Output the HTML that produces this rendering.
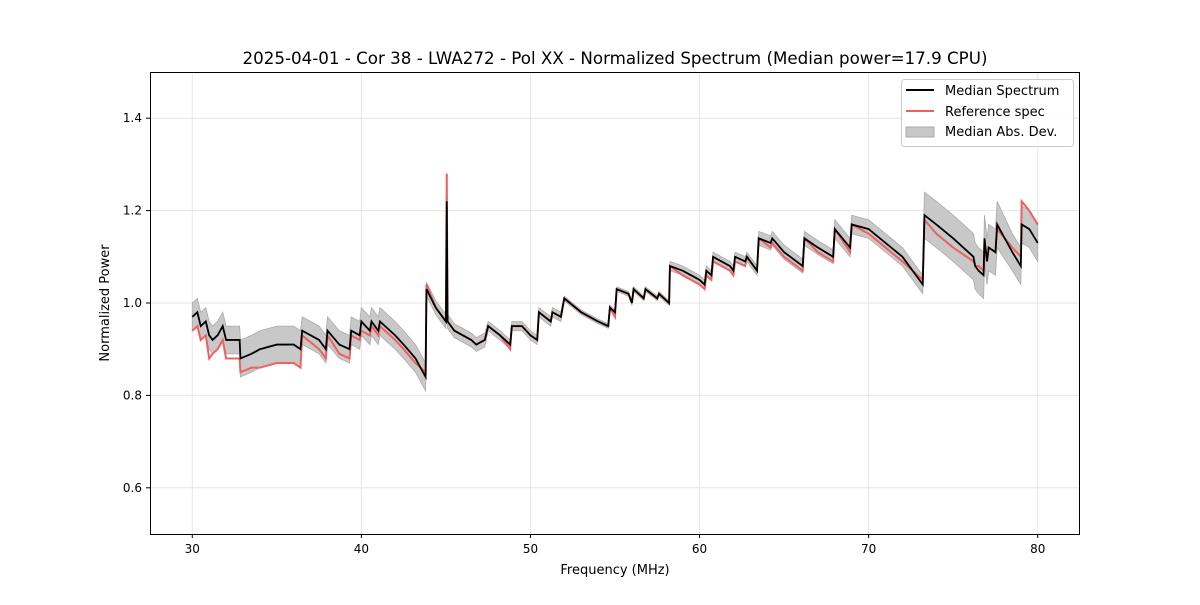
<!DOCTYPE html>
<html><head><meta charset="utf-8"><style>
body{margin:0;background:#fff;}
svg text{font-family:"DejaVu Sans","Liberation Sans",sans-serif;fill:#000;}
</style></head><body>
<svg id="chart" width="1200" height="600" xmlns="http://www.w3.org/2000/svg">
<rect width="1200" height="600" fill="#fff"/>
<text x="615" y="64" font-size="16.7" text-anchor="middle">2025-04-01 - Cor 38 - LWA272 - Pol XX - Normalized Spectrum (Median power=17.9 CPU)</text>
<g id="grid"></g>
<g id="marks"></g>
<rect x="150.5" y="72.5" width="929" height="462" fill="none" stroke="#000" stroke-width="1"/>
<g id="ticks"></g>
<text x="615" y="574" font-size="13" text-anchor="middle">Frequency (MHz)</text>
<text transform="translate(109,303) rotate(-90)" font-size="13" text-anchor="middle">Normalized Power</text>
<g>
<rect x="901.5" y="79.5" width="172" height="67" rx="3" fill="#fff" fill-opacity="0.8" stroke="#ccc"/>
<line x1="906" y1="90" x2="934" y2="90" stroke="#000" stroke-width="2"/>
<text x="945" y="95" font-size="13">Median Spectrum</text>
<line x1="906" y1="111" x2="934" y2="111" stroke="#f06060" stroke-width="2"/>
<text x="945" y="116" font-size="13">Reference spec</text>
<rect x="906" y="127" width="28" height="10" fill="#c8c8c8" stroke="#aaa"/>
<text x="945" y="136" font-size="13">Median Abs. Dev.</text>
</g>
</svg>
<script>
const freqs=[30.0,30.3,30.5,30.8,31.0,31.2,31.5,31.8,32.0,32.8,32.85,33.5,34,35,36,36.4,36.5,37.5,37.9,38.0,38.7,39.3,39.4,39.9,40.0,40.5,40.6,41.0,41.1,42,42.5,43.2,43.8,43.85,44.4,45.0,45.05,45.1,45.5,46,46.5,46.8,47.3,47.5,48.2,48.8,48.9,49.5,50.0,50.4,50.5,51.2,51.3,51.8,52.0,53,54,54.6,54.7,55.0,55.1,55.8,56.0,56.1,56.7,56.8,57.5,57.6,58.2,58.25,59,60,60.3,60.4,60.7,60.8,61.8,62.0,62.1,62.7,62.8,63.4,63.5,64.2,64.3,65,66.1,66.2,67,67.9,68.0,68.9,69.0,70,71,72,73.2,73.3,74,75,76.2,76.3,76.5,76.8,76.85,77.0,77.1,77.5,77.6,78.5,79.0,79.05,79.5,80.0];
const medianValues=[.97,.98,.95,.96,.93,.92,.93,.95,.92,.92,.88,.89,.90,.91,.91,.90,.94,.92,.90,.94,.91,.90,.94,.93,.96,.94,.96,.94,.96,.93,.91,.88,.84,1.03,.99,.96,1.22,.96,.94,.93,.92,.91,.92,.95,.93,.91,.95,.95,.93,.92,.98,.96,.98,.97,1.01,.98,.96,.95,.99,.98,1.03,1.02,1.00,1.03,1.01,1.03,1.01,1.02,1.00,1.08,1.07,1.05,1.04,1.07,1.06,1.10,1.08,1.07,1.10,1.09,1.10,1.07,1.14,1.13,1.14,1.11,1.08,1.14,1.12,1.10,1.16,1.12,1.17,1.16,1.13,1.10,1.04,1.19,1.17,1.14,1.10,1.08,1.07,1.06,1.14,1.09,1.12,1.11,1.17,1.11,1.08,1.17,1.16,1.13];
const referenceValues=[.94,.95,.92,.93,.88,.89,.90,.92,.88,.88,.85,.86,.86,.87,.87,.86,.93,.90,.88,.93,.89,.88,.93,.92,.94,.93,.95,.93,.95,.92,.90,.87,.85,1.04,.99,.96,1.28,.96,.94,.93,.92,.91,.92,.95,.93,.90,.95,.95,.93,.92,.98,.96,.98,.97,1.01,.98,.96,.95,.99,.97,1.03,1.02,1.00,1.03,1.01,1.03,1.01,1.02,1.00,1.08,1.06,1.04,1.03,1.06,1.05,1.09,1.07,1.06,1.09,1.08,1.10,1.07,1.14,1.12,1.13,1.10,1.07,1.14,1.11,1.09,1.16,1.11,1.17,1.15,1.12,1.09,1.05,1.18,1.15,1.12,1.09,1.08,1.08,1.07,1.13,1.09,1.12,1.11,1.16,1.12,1.10,1.22,1.20,1.17];
const madValues=[.03,.03,.03,.03,.03,.03,.03,.03,.03,.03,.04,.04,.04,.04,.04,.04,.03,.03,.03,.03,.03,.03,.03,.03,.03,.03,.03,.03,.03,.03,.03,.03,.03,.015,.015,.015,.015,.015,.015,.015,.015,.015,.015,.01,.01,.01,.01,.01,.01,.01,.01,.01,.01,.01,.005,.005,.005,.005,.005,.005,.005,.005,.005,.005,.005,.005,.005,.005,.005,.01,.01,.01,.01,.01,.01,.01,.01,.01,.01,.01,.01,.01,.015,.015,.015,.015,.015,.015,.015,.015,.02,.02,.02,.02,.02,.02,.02,.05,.05,.05,.05,.05,.05,.05,.05,.05,.05,.05,.05,.04,.04,.04,.04,.04];
const xTicks=[30,40,50,60,70,80];
const yTicks=[0.6,0.8,1.0,1.2,1.4];
const X0=150,X1=1080,Y0=534,Y1=72,XMIN=27.5,XMAX=82.5,YMIN=0.5,YMAX=1.5;
const sx=f=>X0+(f-XMIN)/(XMAX-XMIN)*(X1-X0);
const sy=v=>Y0-(v-YMIN)/(YMAX-YMIN)*(Y0-Y1);
const NS="http://www.w3.org/2000/svg";
function mk(tag,parent){const e=document.createElementNS(NS,tag);parent.appendChild(e);return e;}
const grid=document.getElementById('grid'),ticks=document.getElementById('ticks'),marks=document.getElementById('marks');
xTicks.forEach(t=>{
 const g=mk('line',grid);g.setAttribute('x1',sx(t));g.setAttribute('x2',sx(t));g.setAttribute('y1',Y1);g.setAttribute('y2',Y0);g.setAttribute('stroke','#e6e6e6');
 
 
 const l=mk('line',ticks);l.setAttribute('x1',sx(t));l.setAttribute('x2',sx(t));l.setAttribute('y1',Y0);l.setAttribute('y2',Y0+4);l.setAttribute('stroke','#000');
 
 
 const tx=mk('text',ticks);tx.setAttribute('x',sx(t));tx.setAttribute('y',Y0+19);tx.setAttribute('font-size','12');tx.setAttribute('text-anchor','middle');tx.textContent=t;
 
 
});
yTicks.forEach(t=>{
 const g=mk('line',grid);g.setAttribute('x1',X0);g.setAttribute('x2',X1);g.setAttribute('y1',sy(t));g.setAttribute('y2',sy(t));g.setAttribute('stroke','#e6e6e6');
 
 
 const l=mk('line',ticks);l.setAttribute('x1',X0-4);l.setAttribute('x2',X0);l.setAttribute('y1',sy(t));l.setAttribute('y2',sy(t));l.setAttribute('stroke','#000');
 
 
 const tx=mk('text',ticks);tx.setAttribute('x',X0-8);tx.setAttribute('y',sy(t)+4);tx.setAttribute('font-size','12');tx.setAttribute('text-anchor','end');tx.textContent=t.toFixed(1);
 
 
});
let up=freqs.map((f,i)=>sx(f)+','+sy(medianValues[i]+madValues[i]));
let dn=freqs.map((f,i)=>sx(f)+','+sy(medianValues[i]-madValues[i])).reverse();
const band=mk('polygon',marks);band.setAttribute('points',up.concat(dn).join(' '));band.setAttribute('fill','#c8c8c8');band.setAttribute('stroke','#aaa');band.setAttribute('stroke-width','0.8');


const ref=mk('polyline',marks);ref.setAttribute('points',freqs.map((f,i)=>sx(f)+','+sy(referenceValues[i])).join(' '));ref.setAttribute('fill','none');ref.setAttribute('stroke','#f06060');ref.setAttribute('stroke-width','2');


const med=mk('polyline',marks);med.setAttribute('points',freqs.map((f,i)=>sx(f)+','+sy(medianValues[i])).join(' '));med.setAttribute('fill','none');med.setAttribute('stroke','#000');med.setAttribute('stroke-width','1.8');


</script>
</body></html>
